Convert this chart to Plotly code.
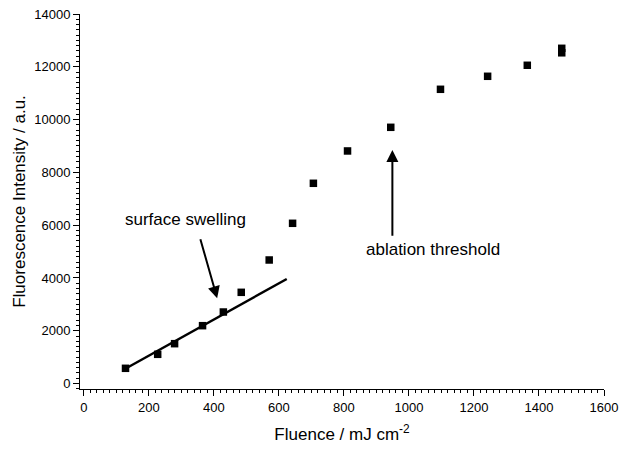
import plotly.graph_objects as go

# Data
fluence = [128, 227, 279, 365, 429, 484, 570, 642, 706, 811, 944, 1097, 1242, 1364, 1470, 1470]
intensity = [576, 1106, 1509, 2191, 2709, 3455, 4680, 6070, 7586, 8811, 9707, 11147, 11640, 12057, 12700, 12530]

fit_x = [126, 624]
fit_y = [550, 3960]

FONT = "Liberation Sans, Arial, sans-serif"

fig = go.Figure()
fig.add_trace(go.Scatter(x=fit_x, y=fit_y, mode="lines",
                         line=dict(color="black", width=2.5), showlegend=False))
fig.add_trace(go.Scatter(x=fluence, y=intensity, mode="markers",
                         marker=dict(symbol="square", size=7.5, color="black"),
                         showlegend=False))

fig.add_annotation(x=410, y=3229, ax=357, ay=5525, xref="x", yref="y", axref="x", ayref="y",
                   showarrow=True, arrowhead=2, arrowsize=1.2, arrowwidth=2, arrowcolor="black", text="")
fig.add_annotation(x=949, y=8848, ax=949, ay=5540, xref="x", yref="y", axref="x", ayref="y",
                   showarrow=True, arrowhead=2, arrowsize=1.2, arrowwidth=2, arrowcolor="black", text="")
fig.add_annotation(x=314, y=6196, text="surface swelling", showarrow=False,
                   font=dict(family=FONT, size=17, color="black"))
fig.add_annotation(x=1074, y=5059, text="ablation threshold", showarrow=False,
                   font=dict(family=FONT, size=17, color="black"))

axis_common = dict(showline=True, linecolor="black", linewidth=1, showgrid=False, zeroline=False,
                   ticks="outside", ticklen=6, tickcolor="black", tickwidth=1, automargin=False,
                   tickformat="d",
                   tickfont=dict(family=FONT, size=13, color="black"))

fig.update_xaxes(range=[-12, 1600], dtick=200, tick0=0,
                 minor=dict(ticks="outside", dtick=20, ticklen=3, tickcolor="black"),
                 title=dict(text="Fluence / mJ cm<sup>-2</sup>", font=dict(family=FONT, size=17, color="black"),
                            standoff=14),
                 **axis_common)
fig.update_yaxes(range=[-208, 14000], dtick=2000, tick0=0,
                 minor=dict(ticks="outside", dtick=200, ticklen=3, tickcolor="black"),
                 title=dict(text="Fluorescence Intensity / a.u.", font=dict(family=FONT, size=17, color="black"),
                            standoff=4),
                 **axis_common)

fig.update_layout(width=619, height=449, margin=dict(l=80, r=15, t=14, b=60),
                  plot_bgcolor="white", paper_bgcolor="white",
                  font=dict(family=FONT, color="black"))

fig.write_html("out.html", config={"displayModeBar": False},
               post_script="document.body.style.margin='0';document.body.style.overflow='hidden';")
